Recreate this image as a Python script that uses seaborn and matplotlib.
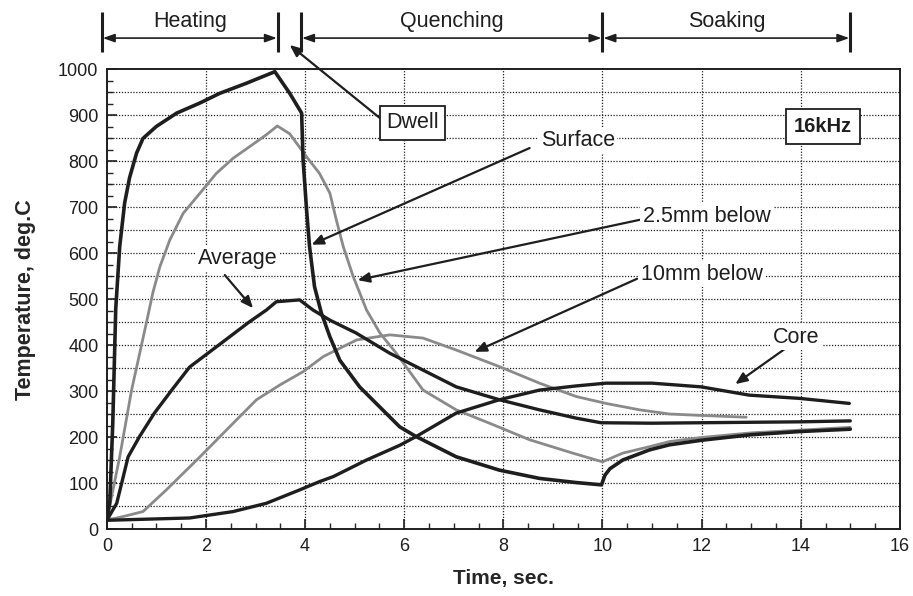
import numpy as np
import pandas as pd
import matplotlib
matplotlib.use("Agg")
import matplotlib.pyplot as plt
import seaborn as sns

# Temperature histories
surface_t = [0, 0.06, 0.12, 0.18, 0.26, 0.36, 0.46, 0.6, 0.73, 1.0, 1.41, 1.88, 2.28, 2.82,
             3.39, 3.69, 3.93, 3.96, 4.03, 4.09, 4.19, 4.33, 4.5, 4.7, 5.1, 5.5, 5.91, 6.24,
             7.05, 7.92, 8.73, 9.47, 9.98, 10.05, 10.15, 10.41, 10.95, 11.35, 12.0, 13.0,
             14.0, 15.0]
surface_T = [20, 60, 231, 480, 615, 710, 765, 818, 850, 876, 905, 927, 948, 970,
             995, 948, 905, 803, 695, 615, 528, 470, 419, 368, 310, 267, 223, 202,
             158, 129, 111, 102, 97, 118, 132, 151, 173, 184, 194, 206,
             213, 218]

mm25_t = [0, 0.26, 0.5, 0.8, 0.93, 1.07, 1.27, 1.54, 1.88, 2.21, 2.55, 2.88, 3.22, 3.44,
          3.69, 4.03, 4.29, 4.5, 4.63, 4.77, 4.97, 5.24, 5.51, 5.84, 6.38, 7.05, 7.72,
          8.53, 9.4, 10.0, 10.41, 10.95, 11.35, 12, 13, 14, 15]
mm25_T = [20, 158, 303, 450, 515, 571, 629, 687, 731, 774, 807, 832, 858, 877,
          860, 810, 774, 731, 673, 615, 550, 477, 427, 383, 303, 260, 231,
          195, 166, 147, 166, 180, 191, 200, 210, 216, 222]

avg_t = [0, 0.2, 0.43, 0.66, 0.96, 1.31, 1.67, 2.26, 2.86, 3.22, 3.42, 3.89, 4.16, 4.5,
         5.03, 5.71, 6.24, 7.05, 7.92, 8.73, 9.47, 9.97, 11, 12, 13, 14, 15]
avg_T = [20, 57, 158, 202, 253, 303, 353, 401, 450, 477, 495, 499, 477, 455,
         427, 383, 354, 310, 282, 260, 242, 232, 231, 232, 233, 234, 236]

mm10_t = [0, 0.4, 0.73, 1.2, 1.88, 2.55, 3.02, 3.49, 3.96, 4.37, 5.04, 5.71, 6.38, 7.05,
          7.92, 8.73, 9.47, 10.07, 10.75, 11.35, 11.96, 12.9]
mm10_T = [20, 30, 39, 86, 158, 231, 282, 314, 343, 376, 412, 423, 416, 390,
          354, 318, 289, 274, 260, 251, 248, 244]

core_t = [0, 1.67, 2.55, 3.22, 3.89, 4.29, 4.57, 5.24, 5.91, 6.24, 7.05, 7.92, 8.73, 9.47,
          10.07, 11.0, 11.99, 12.96, 13.97, 14.98]
core_T = [20, 25, 39, 57, 86, 104, 115, 151, 183, 202, 253, 282, 303, 312,
          318, 318, 310, 292, 285, 274]

# phase boundaries along the top
phase_bounds = [-0.1, 3.45, 3.92, 10.0, 15.0]
phase_names = ["Heating", "Quenching", "Soaking"]

sns.set_style("white")
plt.rcParams['font.family'] = ['Liberation Sans', 'DejaVu Sans']

fig = plt.figure(figsize=(9.13, 5.96), dpi=100)
ax = fig.add_axes([0.117, 0.1116, 0.8686, 0.772])

black = "#1e1e1e"
gray = "#8a8a8a"

# dotted grid
ax.hlines(np.arange(50, 1000, 50), 0, 16, colors="#222222", linestyles=(0, (1, 1.3)), lw=0.9, zorder=1)
ax.vlines(np.arange(2, 16, 2), 0, 1000, colors="#222222", linestyles=(0, (1, 1.3)), lw=0.9, zorder=1)

series = [
    (mm10_t, mm10_T, gray, 2.0),
    (mm25_t, mm25_T, gray, 2.0),
    (core_t, core_T, black, 2.4),
    (avg_t, avg_T, black, 2.4),
    (surface_t, surface_T, black, 2.6),
]
for t, T, col, lw in series:
    df = pd.DataFrame({"t": t, "T": T})
    sns.lineplot(data=df, x="t", y="T", sort=False, color=col, lw=lw, ax=ax, zorder=3,
                 estimator=None)

ax.set_xlim(0, 16)
ax.set_ylim(0, 1000)
ax.set_xticks(np.arange(0, 17, 2))
ax.set_xticks(np.arange(0, 16.01, 0.5), minor=True)
ax.set_yticks(np.arange(0, 1001, 100))
ax.set_yticks(np.arange(0, 1001, 25), minor=True)
ax.tick_params(axis="both", which="major", direction="in", length=7, width=1.2, labelsize=13,
               colors=black, pad=6)
ax.tick_params(axis="both", which="minor", direction="in", length=4, width=1.0)
ax.tick_params(bottom=True, left=True, top=False, right=False, which="both")
for s in ax.spines.values():
    s.set_color(black)
    s.set_linewidth(1.4)

ax.set_xlabel("Time, sec.", fontsize=15, fontweight="bold", labelpad=10)
ax.set_ylabel("Temperature, deg.C", fontsize=15.5, fontweight="bold", labelpad=16)

# phase bar above the axes
ax.vlines(phase_bounds, 1038, 1125, colors=black, lw=2.2, clip_on=False)
spans = [(phase_bounds[0], phase_bounds[1]), (phase_bounds[2], phase_bounds[3]),
         (phase_bounds[3], phase_bounds[4])]
for (a, b), name in zip(spans, phase_names):
    ax.annotate("", xy=(b - 0.02, 1068), xytext=(a + 0.02, 1068), annotation_clip=False,
                arrowprops=dict(arrowstyle="<|-|>,head_length=0.7,head_width=0.25",
                                color=black, lw=1.2, shrinkA=0, shrinkB=0))
    ax.text((a + b) / 2, 1104, name, ha="center", va="center", fontsize=15.5, color=black,
            clip_on=False)

# labels with arrows
lbl = dict(fontsize=15.5, color=black, ha="center", va="center",
           bbox=dict(boxstyle="square,pad=0.12", fc="white", ec="none"))
arr = dict(arrowstyle="-|>,head_length=0.7,head_width=0.3", color=black, lw=1.6,
           shrinkA=0, shrinkB=0)

ax.annotate("", xy=(3.69, 1053), xytext=(5.5, 895), annotation_clip=False, arrowprops=arr)
ax.text(6.17, 884, "Dwell", fontsize=15.5, color=black, ha="center", va="center", zorder=5,
        bbox=dict(boxstyle="square,pad=0.3", fc="white", ec=black, lw=1.3))
ax.text(14.45, 875, "16kHz", fontsize=14.5, fontweight="bold", color=black, ha="center",
        va="center", zorder=5, bbox=dict(boxstyle="square,pad=0.4", fc="white", ec=black, lw=1.3))

ax.annotate("", xy=(4.13, 619), xytext=(8.53, 829), arrowprops=arr, zorder=4)
ax.text(9.5, 845, "Surface", zorder=5, **lbl)
ax.annotate("", xy=(5.06, 542), xytext=(10.75, 673), arrowprops=arr, zorder=4)
ax.text(12.1, 681, "2.5mm below", zorder=5, **lbl)
ax.annotate("", xy=(7.42, 386), xytext=(10.7, 545), arrowprops=arr, zorder=4)
ax.text(12.0, 555, "10mm below", zorder=5, **lbl)
ax.annotate("", xy=(12.68, 316), xytext=(13.7, 394), arrowprops=arr, zorder=4)
ax.text(13.9, 418, "Core", zorder=5, **lbl)
ax.annotate("", xy=(2.95, 481), xytext=(2.38, 553), arrowprops=arr, zorder=4)
ax.text(2.64, 590, "Average", zorder=5, **lbl)

fig.savefig("out.png", dpi=100)
